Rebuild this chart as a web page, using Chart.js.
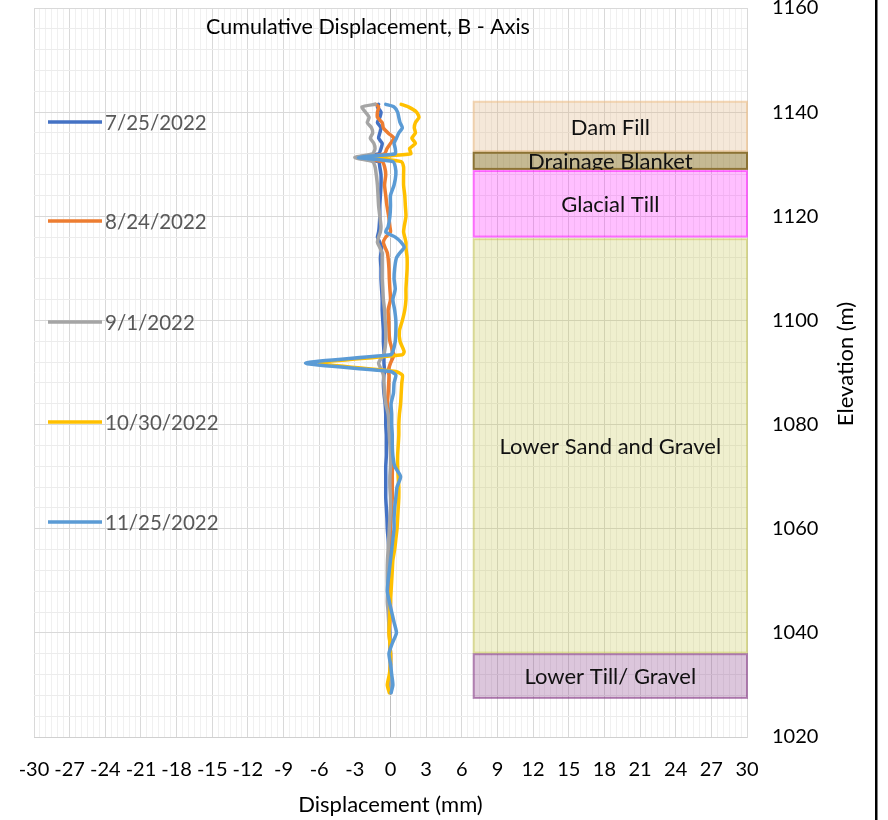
<!DOCTYPE html>
<html>
<head>
<meta charset="utf-8">
<script src="https://cdn.jsdelivr.net/npm/chart.js@4.4.1/dist/chart.umd.min.js"></script>
<style>
  html, body { margin: 0; padding: 0; background: #fff; }
  #wrap { position: relative; width: 888px; height: 820px; }
</style>
</head>
<body>
<div id="wrap"><canvas id="desplazamientoChart" width="888" height="820"></canvas></div>
<script>
// Elevaciones de lectura (m), comunes a todas las series
const elevaciones = [
  1141.5, 1141, 1140, 1139, 1138, 1137, 1136, 1135, 1134, 1133,
  1132, 1131.3, 1130.5, 1129.5, 1128, 1126, 1124, 1122, 1120, 1118,
  1117, 1116, 1115, 1114, 1113, 1112, 1110, 1108, 1106, 1104,
  1102, 1100, 1098, 1096, 1094, 1093.4, 1091.8, 1090.2, 1089.5, 1088,
  1086, 1084, 1082, 1080, 1078, 1076, 1074, 1072, 1070, 1068,
  1066, 1064, 1062, 1060, 1058, 1056, 1054, 1052, 1050, 1048,
  1046, 1044, 1042, 1040, 1038, 1036, 1034, 1032, 1030, 1028.5
];

// Fechas de lectura (leyenda)
const fechas = ['7/25/2022', '8/24/2022', '9/1/2022', '10/30/2022', '11/25/2022'];

// Desplazamiento acumulado (mm) por fecha
const desp0725 = [
  -1.0, -1.1, -0.8, -0.9, -1.1, -0.8, -0.9, -1.0, -0.7, -0.8,
  -1.0, -2.8, -1.0, -0.9, -0.8, -0.8, -0.85, -0.9, -0.9, -0.95,
  -1.0, -1.1, -0.9, -0.75, -0.8, -0.85, -0.8, -0.8, -0.75, -0.7,
  -0.7, -0.65, -0.6, -0.6, -0.55, -0.55, -0.55, -0.5, -0.55, -0.6,
  -0.55, -0.45, -0.4, -0.4, -0.35, -0.35, -0.35, -0.4, -0.4, -0.4,
  -0.4, -0.35, -0.3, -0.27, -0.2, -0.15, -0.13, -0.13, -0.13, -0.13,
  -0.13, -0.1, -0.1, -0.05, -0.05, 0.0, 0.0, 0.0, 0.0, 0.0
];
const desp0824 = [
  -1.25, -1.0, -1.1, -1.1, -0.7, -0.6, -0.2, 0.3, 0.0, -0.3,
  -0.5, -2.5, -0.7, -0.5, -0.4, -0.5, -0.4, -0.3, -0.15, -0.05,
  0.0, -0.4, -0.6, -0.45, -0.27, -0.2, -0.13, -0.1, -0.05, 0.0,
  -0.2, -0.15, -0.13, -0.05, 0.2, 0.3, 0.0, -0.2, -0.13, -0.15,
  -0.2, -0.25, -0.1, 0.0, 0.05, 0.1, 0.1, 0.15, 0.15, 0.15,
  0.15, 0.1, 0.05, 0.0, 0.0, -0.05, 0.0, 0.05, 0.0, -0.05,
  0.0, 0.0, -0.05, -0.1, -0.05, 0.0, 0.0, -0.05, 0.0, 0.0
];
const desp0901 = [
  -1.3, -2.4, -2.1, -1.8, -1.95, -1.6, -1.5, -1.7, -1.4, -1.3,
  -1.5, -3.0, -1.5, -1.3, -1.2, -1.1, -1.05, -1.0, -0.9, -0.8,
  -0.85, -1.0, -1.1, -0.9, -0.7, -0.7, -0.7, -0.7, -0.65, -0.6,
  -0.5, -0.45, -0.4, -0.4, -0.5, -0.6, -1.0, -0.7, -0.6, -0.55,
  -0.5, -0.4, -0.2, -0.13, -0.1, -0.05, 0.0, 0.0, -0.05, -0.05,
  0.0, 0.0, -0.05, -0.1, -0.15, -0.2, -0.25, -0.27, -0.27, -0.25,
  -0.27, -0.2, -0.15, -0.1, -0.05, -0.05, 0.0, 0.0, 0.0, 0.0
];
const desp1030 = [
  0.9, 1.5, 2.2, 2.4, 2.1, 2.0, 2.1, 1.8, 2.1, 1.6,
  1.7, -1.7, 0.9, 1.1, 1.1, 1.1, 1.2, 1.25, 1.3, 1.15,
  1.1, 1.2, 1.3, 1.3, 1.35, 1.4, 1.4, 1.35, 1.3, 1.3,
  1.2, 1.0, 0.75, 0.8, 1.15, 1.0, -6.0, 0.45, 1.0, 0.95,
  0.9, 0.85, 0.75, 0.7, 0.7, 0.65, 0.6, 0.6, 0.65, 0.7,
  0.7, 0.65, 0.6, 0.55, 0.45, 0.35, 0.2, 0.15, 0.1, 0.05,
  0.0, -0.05, -0.1, -0.13, -0.05, 0.0, 0.0, -0.1, -0.27, -0.1
];
const desp1125 = [
  -0.4, 0.3, 0.6, 0.7, 0.8, 1.0, 0.7, 0.5, 0.3, 0.4,
  0.4, -2.7, 0.2, 0.4, 0.45, 0.3, 0.0, 0.0, -0.05, -0.2,
  -0.4, 0.4, 0.9, 1.15, 0.8, 0.5, 0.35, 0.3, 0.4, 0.2,
  0.35, 0.45, 0.45, 0.4, 0.2, 0.0, -7.15, 0.0, 0.45, 0.3,
  0.25, 0.05, 0.1, 0.1, 0.15, 0.15, 0.2, 0.35, 0.85, 0.55,
  0.45, 0.35, 0.3, 0.3, 0.2, 0.1, 0.0, -0.1, -0.2, -0.27,
  -0.1, 0.1, 0.3, 0.5, 0.15, -0.13, 0.0, 0.1, 0.2, 0.05
];

// Estratos del terreno: nombre, elevación de techo y base (m), rango horizontal (mm)
const capas = ['Dam Fill', 'Drainage Blanket', 'Glacial Till', 'Lower Sand and Gravel', 'Lower Till/ Gravel'];
const capaTecho = [1142, 1132.2, 1128.7, 1115.6, 1035.9];
const capaBase = [1132.5, 1129.1, 1116.1, 1036.2, 1027.5];
const capaDesde = [7, 7, 7, 7, 7];
const capaHasta = [30, 30, 30, 30, 30];

// Ejes
const xMin = -30, xMax = 30, xPaso = 3, xMenor = 0.5;
const yMin = 1020, yMax = 1160, yPaso = 20, yMenor = 4;

// Estilos
const coloresSerie = ['#4472c4', '#ed7d31', '#a5a5a5', '#ffc000', '#5b9bd5'];
const coloresCapa = [
  { fill: 'rgba(222,180,130,0.30)', stroke: 'rgba(236,190,135,0.6)' },
  { fill: 'rgba(140,115,40,0.50)', stroke: '#8c7334' },
  { fill: 'rgba(255,0,255,0.25)', stroke: 'rgba(255,0,255,0.5)' },
  { fill: 'rgba(190,190,60,0.25)', stroke: 'rgba(190,190,60,0.45)' },
  { fill: 'rgba(130,50,130,0.28)', stroke: 'rgba(130,50,130,0.55)' }
];
const FUENTE = 'Lato';

const series = [desp0725, desp0824, desp0901, desp1030, desp1125];

// Capas dibujadas detrás de las líneas
const capasPlugin = {
  id: 'capas',
  beforeDatasetsDraw(chart) {
    const { ctx, scales: { x, y } } = chart;
    capas.forEach((nombre, i) => {
      const x1 = x.getPixelForValue(capaDesde[i]);
      const x2 = x.getPixelForValue(capaHasta[i]);
      const y1 = y.getPixelForValue(capaTecho[i]);
      const y2 = y.getPixelForValue(capaBase[i]);
      ctx.save();
      ctx.fillStyle = coloresCapa[i].fill;
      ctx.fillRect(x1, y1, x2 - x1, y2 - y1);
      ctx.strokeStyle = coloresCapa[i].stroke;
      ctx.lineWidth = 2;
      ctx.strokeRect(x1, y1, x2 - x1, y2 - y1);
      ctx.beginPath();
      ctx.rect(x1, y1 - 1, x2 - x1, y2 - y1 + 2);
      ctx.clip();
      ctx.fillStyle = '#111';
      ctx.font = '22px ' + FUENTE;
      ctx.textAlign = 'center';
      ctx.textBaseline = 'middle';
      ctx.fillText(nombre, (x1 + x2) / 2, (y1 + y2) / 2 + 1);
      ctx.restore();
    });
  }
};

// Título, leyenda vertical, título del eje Y y borde derecho
const extrasPlugin = {
  id: 'extras',
  afterDraw(chart) {
    const { ctx } = chart;
    ctx.save();
    ctx.fillStyle = '#000';
    ctx.font = '21.5px ' + FUENTE;
    ctx.textAlign = 'center';
    ctx.textBaseline = 'middle';
    ctx.fillText('Cumulative Displacement, B - Axis', 368, 27);

    const leyendaY = [122, 221, 322, 422, 522];
    chart.data.datasets.forEach((ds, i) => {
      ctx.strokeStyle = ds.borderColor;
      ctx.lineWidth = 3.5;
      ctx.beginPath();
      ctx.moveTo(48, leyendaY[i]);
      ctx.lineTo(102, leyendaY[i]);
      ctx.stroke();
      ctx.fillStyle = '#595959';
      ctx.font = '20.5px ' + FUENTE;
      ctx.textAlign = 'left';
      ctx.fillText(ds.label, 105, leyendaY[i] + 1);
    });

    ctx.translate(846, 364);
    ctx.rotate(-Math.PI / 2);
    ctx.fillStyle = '#000';
    ctx.font = '22px ' + FUENTE;
    ctx.textAlign = 'center';
    ctx.fillText('Elevation (m)', 0, 0);
    ctx.restore();

    ctx.save();
    ctx.fillStyle = '#000';
    ctx.fillRect(875, 0, 2.5, chart.height);
    ctx.restore();
  }
};

const esMultiplo = (v, m) => Math.abs(v / m - Math.round(v / m)) < 1e-6;

const ctx = document.getElementById('desplazamientoChart').getContext('2d');
const desplazamientoChart = new Chart(ctx, {
  type: 'scatter',
  data: {
    datasets: fechas.map((f, i) => ({
      label: f,
      data: elevaciones.map((e, k) => ({ x: series[i][k], y: e })),
      showLine: true,
      borderColor: coloresSerie[i],
      backgroundColor: coloresSerie[i],
      borderWidth: 3.5,
      pointRadius: 0,
      tension: 0.2,
      borderCapStyle: 'round',
      borderJoinStyle: 'round',
      order: fechas.length - i
    }))
  },
  options: {
    responsive: false,
    animation: false,
    devicePixelRatio: 1,
    layout: { padding: { left: 34, top: 8, right: 0, bottom: 0 } },
    plugins: {
      legend: { display: false },
      title: { display: false },
      tooltip: { enabled: false }
    },
    scales: {
      x: {
        type: 'linear',
        min: xMin,
        max: xMax,
        afterFit: s => { s.height = 83; s.paddingLeft = 0; s.paddingRight = 0; },
        border: { color: '#d0d0d0', width: 1 },
        grid: {
          drawTicks: false,
          color: c => {
            const v = c.tick.value;
            if (Math.abs(v) < 1e-6) return '#bfbfbf';
            return esMultiplo(v, xPaso) ? '#d9d9d9' : '#f0f0f0';
          }
        },
        ticks: {
          stepSize: xMenor,
          autoSkip: false,
          maxRotation: 0,
          padding: 21,
          color: '#000',
          font: { family: FUENTE, size: 20 },
          callback: v => esMultiplo(v, xPaso) ? String(Math.round(v)) : ''
        },
        title: {
          display: true,
          text: 'Displacement (mm)',
          color: '#000',
          font: { family: FUENTE, size: 22 },
          padding: { top: 0, bottom: 2 }
        }
      },
      y: {
        type: 'linear',
        position: 'right',
        min: yMin,
        max: yMax,
        afterFit: s => { s.width = 141; s.paddingTop = 0; s.paddingBottom = 0; },
        border: { color: '#d9d9d9', width: 1 },
        grid: {
          drawTicks: false,
          color: c => esMultiplo(c.tick.value, yPaso) ? '#d9d9d9' : '#ececec'
        },
        ticks: {
          stepSize: yMenor,
          autoSkip: false,
          padding: 25,
          color: '#000',
          font: { family: FUENTE, size: 20 },
          callback: v => esMultiplo(v, yPaso) ? String(Math.round(v)) : ''
        }
      }
    }
  },
  plugins: [capasPlugin, extrasPlugin]
});
</script>
</body>
</html>
